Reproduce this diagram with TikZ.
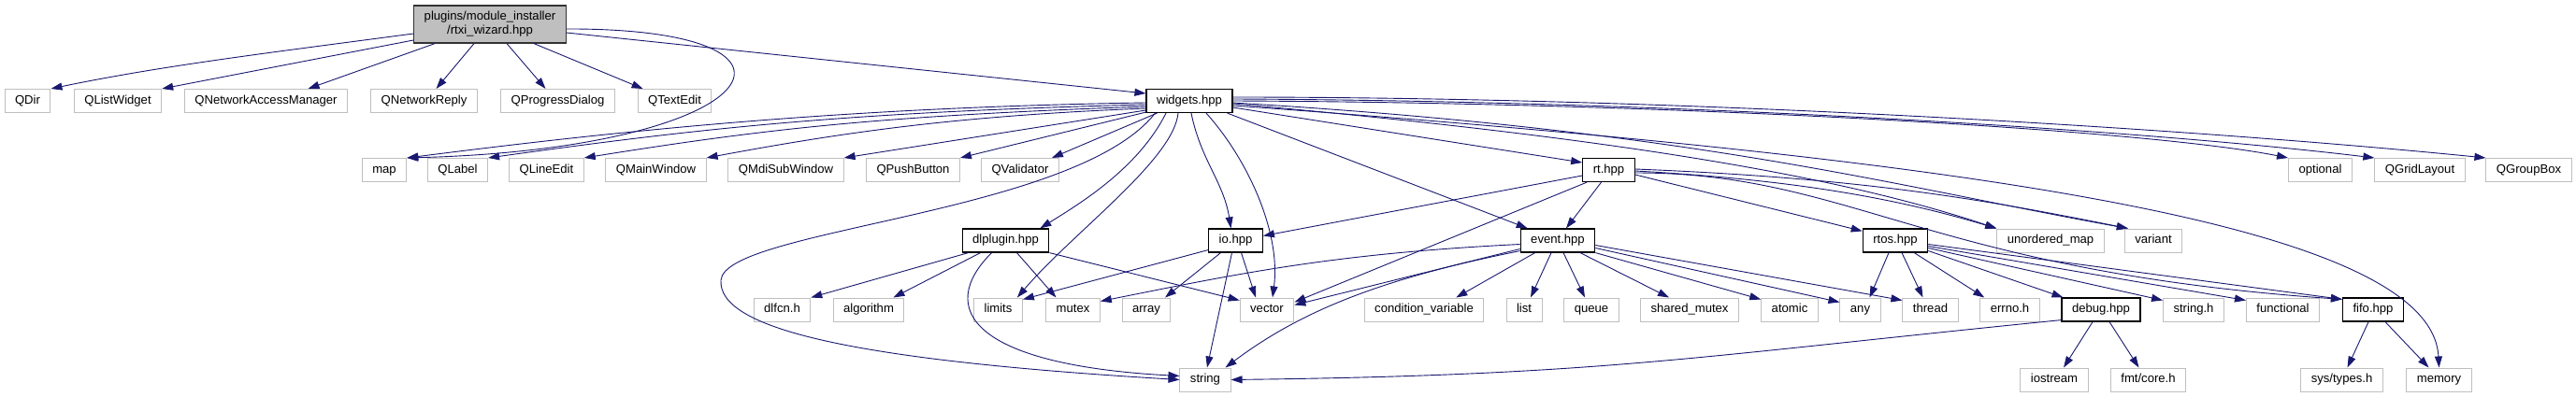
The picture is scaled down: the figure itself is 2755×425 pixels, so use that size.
\documentclass[tikz,border=0pt]{standalone}
\usepackage{fontspec}
\setmainfont{Liberation Sans}
\usetikzlibrary{arrows.meta,calc}
\definecolor{incblue}{RGB}{25,25,112}
\definecolor{hdrgray}{RGB}{191,191,191}
\newcommand{\graphfont}{\fontsize{13.1}{15}\selectfont}

\begin{document}
\begin{tikzpicture}[x=1pt, y=-1pt,
    hdr/.style={draw=hdrgray, fill=white, line width=1pt, minimum height=25pt, inner xsep=11pt, inner ysep=0pt, text height=9.5pt, text depth=2.8pt, font=\graphfont},
    own/.style={hdr, draw=black, line width=1.2pt},
    rootbox/.style={draw=black!80, fill=hdrgray, line width=1.2pt, minimum height=40pt, inner xsep=11pt, align=center, font=\graphfont},
    inc/.style={draw=incblue, line width=0.9pt, -{Triangle[length=12pt,width=8pt]}}
  ]
  \path[use as bounding box, fill=white] (0,0) rectangle (2755,425);

  % included file
  \node[rootbox] (root) at (524,26) {plugins/module\_installer\\/rtxi\_wizard.hpp};

  % second row
  \node[hdr] (qdir) at (29.5,108) {QDir};
  \node[hdr] (qlistwidget) at (126,108) {QListWidget};
  \node[hdr] (qnam) at (284.5,108) {QNetworkAccessManager};
  \node[hdr] (qnetreply) at (453.5,108) {QNetworkReply};
  \node[hdr] (qprogress) at (596.5,108) {QProgressDialog};
  \node[hdr] (qtextedit) at (721.5,108) {QTextEdit};
  \node[own] (widgets) at (1272,108) {widgets.hpp};

  % third row
  \node[hdr] (map) at (411,182) {map};
  \node[hdr] (qlabel) at (489.5,182) {QLabel};
  \node[hdr] (qlineedit) at (584.5,182) {QLineEdit};
  \node[hdr] (qmainwindow) at (701.5,182) {QMainWindow};
  \node[hdr] (qmdisub) at (840.5,182) {QMdiSubWindow};
  \node[hdr] (qpushbutton) at (976.5,182) {QPushButton};
  \node[hdr] (qvalidator) at (1091,182) {QValidator};
  \node[own] (rt) at (1720.5,182) {rt.hpp};
  \node[hdr] (optional) at (2481.5,182) {optional};
  \node[hdr] (qgridlayout) at (2588,182) {QGridLayout};
  \node[hdr] (qgroupbox) at (2704.5,182) {QGroupBox};

  % fourth row
  \node[own] (dlplugin) at (1075.5,257.5) {dlplugin.hpp};
  \node[own] (io) at (1321.5,257.5) {io.hpp};
  \node[own] (event) at (1666,257.5) {event.hpp};
  \node[own] (rtos) at (2027,257.5) {rtos.hpp};
  \node[hdr] (umap) at (2193,257.5) {unordered\_map};
  \node[hdr] (variant) at (2303,257.5) {variant};

  % fifth row
  \node[hdr] (dlfcn) at (836.5,331.5) {dlfcn.h};
  \node[hdr] (algorithm) at (929,331.5) {algorithm};
  \node[hdr] (limits) at (1067.5,331.5) {limits};
  \node[hdr] (mutex) at (1147.5,331.5) {mutex};
  \node[hdr] (array) at (1226,331.5) {array};
  \node[hdr] (vector) at (1355,331.5) {vector};
  \node[hdr] (condvar) at (1523,331.5) {condition\_variable};
  \node[hdr] (list) at (1630,331.5) {list};
  \node[hdr] (queue) at (1702,331.5) {queue};
  \node[hdr] (sharedmutex) at (1807,331.5) {shared\_mutex};
  \node[hdr] (atomic) at (1914,331.5) {atomic};
  \node[hdr] (any) at (1989.5,331.5) {any};
  \node[hdr] (thread) at (2064.5,331.5) {thread};
  \node[hdr] (errno) at (2149.5,331.5) {errno.h};
  \node[own] (debug) at (2247,331.5) {debug.hpp};
  \node[hdr] (stringh) at (2346,331.5) {string.h};
  \node[hdr] (functional) at (2441.5,331.5) {functional};
  \node[own] (fifo) at (2538,331.5) {fifo.hpp};

  % last row
  \node[hdr] (string) at (1289,406.5) {string};
  \node[hdr] (iostream) at (2197,406.5) {iostream};
  \node[hdr] (fmtcore) at (2297.5,406.5) {fmt/core.h};
  \node[hdr] (systypes) at (2504.5,406.5) {sys/types.h};
  \node[hdr] (memory) at (2608.5,406.5) {memory};

  % rtxi_wizard.hpp
  \draw[inc] ($(root.west)+(0,10)$) .. controls +(-150,20) and +(120,-25) .. (qdir.north east);
  \draw[inc] ($(root.west)+(0,17)$) -- (qlistwidget.north east);
  \draw[inc] ($(root.south west)+(23,0)$) -- ($(qnam.north)+(45,0)$);
  \draw[inc] ($(root.south)+(-17,0)$) -- ($(qnetreply.north)+(13,0)$);
  \draw[inc] ($(root.south)+(18,0)$) -- ($(qprogress.north)+(-13,0)$);
  \draw[inc] ($(root.south)+(47,0)$) -- ($(qtextedit.north west)+(6,0)$);
  \draw[inc] ($(root.east)+(0,9)$) -- ($(widgets.west)+(0,-8)$);
  \draw[inc] ($(root.east)+(0,5)$) .. controls +(295,-1) and +(386,-10) .. (map.north east);

  % widgets.hpp
  \draw[inc] ($(widgets.west)+(0,2)$) .. controls +(-330,5) and +(220,-28) .. (map.north east);
  \draw[inc] ($(widgets.west)+(0,4)$) .. controls +(-320,8) and +(230,-32) .. (qlabel.north east);
  \draw[inc] ($(widgets.west)+(0,6)$) .. controls +(-280,10) and +(200,-32) .. (qlineedit.north east);
  \draw[inc] ($(widgets.west)+(0,8)$) .. controls +(-200,8) and +(150,-28) .. (qmainwindow.north east);
  \draw[inc] ($(widgets.west)+(0,10)$) -- (qmdisub.north east);
  \draw[inc] ($(widgets.south west)+(0,-1)$) -- (qpushbutton.north east);
  \draw[inc] ($(widgets.south west)+(12,0)$) -- ($(qvalidator.north east)+(-8,0)$);
  \draw[inc] ($(widgets.east)+(0,-4)$) .. controls +(500,0) and +(-300,-30) .. (qgroupbox.north west);
  \draw[inc] ($(widgets.east)+(0,-2)$) .. controls +(480,2) and +(-250,-30) .. (qgridlayout.north west);
  \draw[inc] (widgets.east) .. controls +(480,2) and +(-150,-30) .. (optional.north west);
  \draw[inc] ($(widgets.east)+(0,7)$) -- ($(rt.west)+(0,-8)$);
  \draw[inc] ($(widgets.east)+(0,3)$) .. controls +(450,40) and +(-150,-50) .. (umap.north west);
  \draw[inc] ($(widgets.east)+(0,2)$) .. controls +(500,30) and +(-250,-45) .. ($(variant.north west)+(4,0)$);
  \draw[inc] ($(widgets.east)+(0,5)$) .. controls +(782,57) and +(-8,-154) .. (memory.north);
  \draw[inc] ($(widgets.south west)+(10,0)$) .. controls (1150,230) and (775,245) .. (771,300)
    .. controls (768,350) and (900,385) .. (string.west);
  \draw[inc] ($(widgets.south)+(-25,0)$) .. controls +(-30,60) and +(40,-25) .. ($(dlplugin.north east)+(-10,0)$);
  \draw[inc] ($(widgets.south)+(-12,0)$) .. controls +(-5,50) and +(60,-70) .. ($(limits.north east)+(-6,0)$);
  \draw[inc] ($(widgets.south)+(2,0)$) .. controls +(10,50) and +(-8,-50) .. ($(io.north)+(-5,0)$);
  \draw[inc] ($(widgets.south)+(18,0)$) .. controls +(45,50) and +(9,-69) .. ($(vector.north)+(6,0)$);
  \draw[inc] ($(widgets.south east)+(-6,0)$) -- ($(event.north west)+(8,0)$);

  % rt.hpp
  \draw[inc] ($(rt.west)+(0,6)$) -- ($(io.east)+(0,-5)$);
  \draw[inc] ($(rt.south)+(-8,0)$) -- ($(event.north)+(9,0)$);
  \draw[inc] ($(rt.south west)+(5,0)$) -- ($(vector.east)+(0,-8)$);
  \draw[inc] ($(rt.east)+(0,5)$) -- ($(rtos.north west)+(0,3)$);
  \draw[inc] ($(rt.east)+(0,1)$) .. controls +(180,10) and +(-100,-30) .. (umap.north west);
  \draw[inc] ($(rt.east)+(0,-1)$) .. controls +(250,10) and +(-150,-30) .. ($(variant.north west)+(4,0)$);
  \draw[inc] ($(rt.east)+(0,3)$) .. controls +(232,0) and +(-445,-31) .. ($(fifo.north west)+(0,2)$);

  % event.hpp
  \draw[inc] ($(event.south west)+(16,0)$) -- ($(condvar.north east)+(-30,0)$);
  \draw[inc] ($(event.south)+(-7,0)$) -- ($(list.north)+(7,0)$);
  \draw[inc] ($(event.south)+(6,0)$) -- ($(queue.north)+(-7,0)$);
  \draw[inc] ($(event.south)+(24,0)$) -- ($(sharedmutex.north)+(-22,0)$);
  \draw[inc] (event.south east) -- ($(atomic.north west)+(0,2)$);
  \draw[inc] ($(event.east)+(0,8)$) -- ($(any.west)+(0,-8)$);
  \draw[inc] ($(event.east)+(0,5)$) -- ($(thread.west)+(0,-10)$);
  \draw[inc] ($(event.west)+(0,4)$) .. controls +(-200,10) and +(150,-30) .. ($(mutex.east)+(0,-9)$);
  \draw[inc] ($(event.west)+(0,9)$) -- ($(vector.east)+(0,-5)$);
  \draw[inc] ($(event.south west)+(0,-2)$) .. controls +(-150,30) and +(80,-60) .. ($(string.north east)+(-6,0)$);

  % rtos.hpp
  \draw[inc] ($(rtos.south)+(-7,0)$) -- ($(any.north east)+(-12,0)$);
  \draw[inc] ($(rtos.south)+(7,0)$) -- ($(thread.north)+(-8,0)$);
  \draw[inc] ($(rtos.south east)+(-15,0)$) -- ($(errno.north west)+(5,0)$);
  \draw[inc] ($(rtos.east)+(0,11)$) -- ($(debug.north west)+(2,0)$);
  \draw[inc] ($(rtos.east)+(0,8)$) -- ($(stringh.north west)+(0,3)$);
  \draw[inc] ($(rtos.east)+(0,6)$) -- ($(functional.north west)+(0,3)$);
  \draw[inc] ($(rtos.east)+(0,4)$) -- ($(fifo.north west)+(0,2)$);

  % dlplugin.hpp
  \draw[inc] ($(dlplugin.south west)+(7,0)$) -- (dlfcn.north east);
  \draw[inc] ($(dlplugin.south west)+(20,0)$) -- ($(algorithm.north east)+(-12,0)$);
  \draw[inc] ($(dlplugin.south)+(-15,0)$) .. controls +(-60,60) and +(-222,-12) .. ($(string.west)+(0,-4)$);
  \draw[inc] ($(dlplugin.south)+(12,0)$) -- ($(mutex.north)+(-18,0)$);
  \draw[inc] (dlplugin.south east) -- ($(vector.north west)+(0,3)$);

  % io.hpp
  \draw[inc] ($(io.south west)+(0,-3)$) -- ($(limits.north east)+(0,2)$);
  \draw[inc] ($(io.south)+(-16,0)$) -- ($(array.north)+(20,0)$);
  \draw[inc] ($(io.south)+(-4,0)$) -- ($(string.north)+(2,0)$);
  \draw[inc] ($(io.south)+(6,0)$) -- ($(vector.north)+(-12,0)$);

  % debug.hpp and fifo.hpp
  \draw[inc] ($(debug.south)+(-9,0)$) -- ($(iostream.north)+(10,0)$);
  \draw[inc] ($(debug.south)+(9,0)$) -- ($(fmtcore.north)+(-10,0)$);
  \draw[inc] ($(debug.south west)+(0,-2)$) .. controls +(-400,40) and +(400,-5) .. (string.east);
  \draw[inc] ($(fifo.south)+(-5,0)$) -- ($(systypes.north)+(6,0)$);
  \draw[inc] ($(fifo.south)+(13,0)$) -- ($(memory.north)+(-11,0)$);
\end{tikzpicture}
\end{document}
